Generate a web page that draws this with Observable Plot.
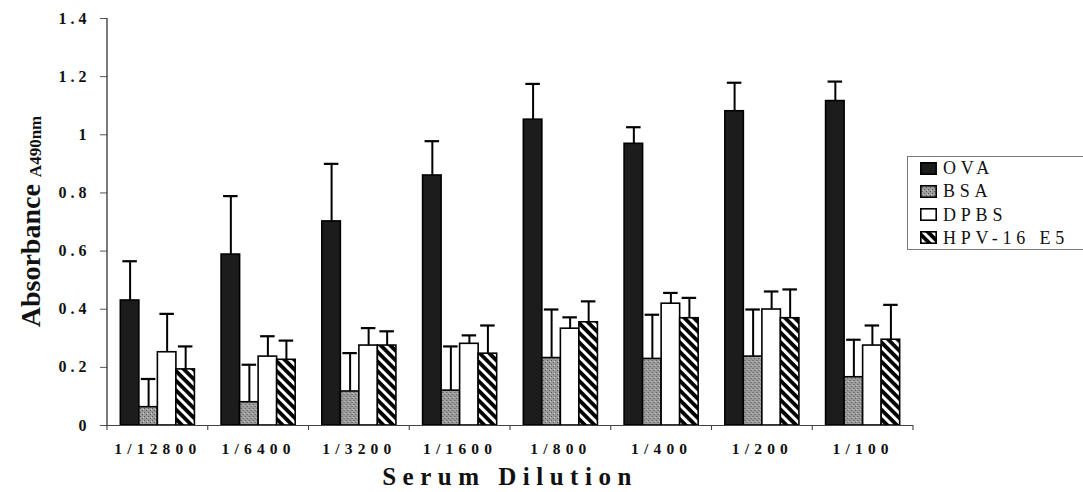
<!DOCTYPE html>
<html>
<head>
<meta charset="utf-8">
<script src="https://cdn.jsdelivr.net/npm/d3@7"></script>
<script src="https://cdn.jsdelivr.net/npm/@observablehq/plot@0.6"></script>
<style>
  body { margin: 0; background: #fff; }
  #chart { position: relative; width: 1083px; height: 492px; overflow: hidden; background: #fff; }
  #chart svg { display: block; }
  .legend {
    position: absolute; left: 907px; top: 156px; width: 190px; height: 94px;
    border: 1px solid #7a7a7a; box-sizing: border-box; background: #fff;
    font-family: "Liberation Serif", "Times New Roman", serif; font-size: 18px; color: #111;
  }
  .legend .row { position: absolute; left: 12px; height: 14px; display: flex; align-items: center; }
  .legend .row svg { flex: none; }
  .legend .row span { margin-left: 6px; letter-spacing: 4.8px; line-height: 14px; }
</style>
</head>
<body>
<div id="chart"></div>
<script>
// Serum dilutions (x categories) and treatment groups (series)
const dilutions = ["1/12800", "1/6400", "1/3200", "1/1600", "1/800", "1/400", "1/200", "1/100"];
const groups = ["OVA", "BSA", "DPBS", "HPV-16 E5"];

// Mean absorbance (A490nm) per dilution
const ovaMean  = [0.430, 0.588, 0.702, 0.860, 1.052, 0.969, 1.081, 1.116];
const bsaMean  = [0.063, 0.080, 0.117, 0.120, 0.232, 0.229, 0.237, 0.166];
const dpbsMean = [0.252, 0.237, 0.275, 0.281, 0.333, 0.419, 0.399, 0.275];
const hpvMean  = [0.193, 0.226, 0.275, 0.247, 0.355, 0.369, 0.369, 0.295];

// Standard deviations (upper error bars)
const ovaSd  = [0.135, 0.201, 0.198, 0.118, 0.123, 0.057, 0.098, 0.067];
const bsaSd  = [0.097, 0.129, 0.132, 0.152, 0.167, 0.152, 0.162, 0.129];
const dpbsSd = [0.132, 0.070, 0.060, 0.029, 0.039, 0.037, 0.062, 0.069];
const hpvSd  = [0.079, 0.066, 0.049, 0.097, 0.072, 0.070, 0.099, 0.120];

// Y axis ticks and their printed labels
const yTicks = [0, 0.2, 0.4, 0.6, 0.8, 1, 1.2, 1.4];
const yTickLabels = ["0", "0.2", "0.4", "0.6", "0.8", "1", "1.2", "1.4"];

const means = [ovaMean, bsaMean, dpbsMean, hpvMean];
const sds = [ovaSd, bsaSd, dpbsSd, hpvSd];

const rows = [];
dilutions.forEach((dil, i) => {
  groups.forEach((g, k) => {
    rows.push({dilution: dil, group: g, mean: means[k][i], sd: sds[k][i]});
  });
});

// Fill for each group: solid dark, grey stipple, white, diagonal hatch
const groupFills = ["#1c1c1c", "url(#bsa-stipple)", "#ffffff", "url(#hpv-hatch)"];

const serif = "'Liberation Serif', 'Times New Roman', serif";

const plot = Plot.plot({
  width: 1083,
  height: 492,
  marginLeft: 107,
  marginRight: 170,
  marginTop: 18,
  marginBottom: 67,
  style: {fontFamily: serif, background: "transparent", color: "#111"},
  fx: {domain: dilutions, padding: 0, round: false, label: null},
  x: {domain: groups, paddingInner: 0, paddingOuter: 0.72, round: false, axis: null},
  y: {domain: [0, 1.4], label: null},
  color: {domain: groups, range: groupFills},
  marks: [
    Plot.axisY({
      ticks: yTicks,
      tickFormat: d => yTickLabels[yTicks.indexOf(d)],
      tickSize: 7,
      tickPadding: 10,
      stroke: "#555",
      fontSize: 16,
      fontWeight: "bold",
      label: null
    }),
    Plot.axisFx({
      anchor: "bottom",
      tickSize: 0,
      tickPadding: 17,
      fontSize: 15.5,
      fontWeight: "bold",
      label: null
    }),
    Plot.barY(rows, {
      fx: "dilution", x: "group", y: "mean",
      fill: "group", stroke: "#000", strokeWidth: 1.6
    }),
    Plot.ruleX(rows, {
      fx: "dilution", x: "group",
      y1: "mean", y2: d => d.mean + d.sd,
      stroke: "#000", strokeWidth: 2
    }),
    Plot.tickY(rows, {
      fx: "dilution", x: "group",
      y: d => d.mean + d.sd,
      stroke: "#000", strokeWidth: 2.2, insetLeft: 2, insetRight: 2
    }),
    Plot.ruleY([0], {stroke: "#444", strokeWidth: 1})
  ]
});

const svg = d3.select(plot);

// Fill patterns used by the bars and the legend swatches
const defs = svg.insert("defs", ":first-child");
const stipple = defs.append("pattern")
  .attr("id", "bsa-stipple").attr("patternUnits", "userSpaceOnUse")
  .attr("width", 4).attr("height", 4);
stipple.append("rect").attr("width", 4).attr("height", 4).attr("fill", "#9c9c9c");
stipple.append("rect").attr("x", 0).attr("y", 0).attr("width", 1).attr("height", 1).attr("fill", "#555");
stipple.append("rect").attr("x", 2).attr("y", 2).attr("width", 1).attr("height", 1).attr("fill", "#555");
stipple.append("rect").attr("x", 3).attr("y", 1).attr("width", 1).attr("height", 1).attr("fill", "#cfcfcf");

const hatch = defs.append("pattern")
  .attr("id", "hpv-hatch").attr("patternUnits", "userSpaceOnUse")
  .attr("width", 6.8).attr("height", 6.8)
  .attr("patternTransform", "rotate(45)");
hatch.append("rect").attr("width", 6.8).attr("height", 6.8).attr("fill", "#fff");
hatch.append("rect").attr("width", 6.8).attr("height", 3.8).attr("fill", "#000");

// Axis lines and category boundary ticks, placed with the plot's scales
const fx = plot.scale("fx");
const y = plot.scale("y");
const xLeft = fx.range[0];
const xRight = fx.range[1];
const y0 = y.apply(0);
const yTop = y.apply(1.4);
const axes = svg.append("g");
axes.append("line")
  .attr("x1", xLeft).attr("x2", xLeft).attr("y1", yTop).attr("y2", y0 + 0.5)
  .style("stroke", "#333").style("stroke-width", 1.3);
const bounds = dilutions.map(d => fx.apply(d)).concat([xRight]);
bounds.forEach(b => {
  axes.append("line")
    .attr("x1", b).attr("x2", b).attr("y1", y0).attr("y2", y0 + 5)
    .style("stroke", "#444").style("stroke-width", 1.1);
});

// Letter spacing on tick labels
svg.selectAll('g[aria-label="y-axis tick label"] text').attr("letter-spacing", 4);
svg.selectAll('g[aria-label="fx-axis tick label"] text').attr("letter-spacing", 5.2);

// Axis titles
const yTitle = svg.append("text")
  .attr("transform", `translate(40,${(yTop + y0) / 2}) rotate(-90)`)
  .attr("text-anchor", "middle")
  .attr("font-family", serif).attr("font-weight", "bold").attr("fill", "#111");
yTitle.append("tspan").attr("font-size", 28).text("Absorbance ");
yTitle.append("tspan").attr("font-size", 17).attr("dy", 1).text("A490nm");

svg.append("text")
  .attr("x", (xLeft + xRight) / 2).attr("y", 485)
  .attr("text-anchor", "middle")
  .attr("font-family", serif).attr("font-weight", "bold").attr("font-size", 25)
  .attr("letter-spacing", 6.5).attr("fill", "#111")
  .text("Serum Dilution");

const chart = document.getElementById("chart");
chart.appendChild(plot);

// Legend box at the right of the plot
const legend = document.createElement("div");
legend.className = "legend";
groups.forEach((g, k) => {
  const row = document.createElement("div");
  row.className = "row";
  row.style.top = (4 + k * 23.3) + "px";
  row.innerHTML =
    `<svg width="17" height="13"><rect x="0.8" y="0.8" width="15.4" height="11.4" fill="${groupFills[k]}" stroke="#000" stroke-width="1.6"></rect></svg>` +
    `<span>${g}</span>`;
  legend.appendChild(row);
});
chart.appendChild(legend);
</script>
</body>
</html>
